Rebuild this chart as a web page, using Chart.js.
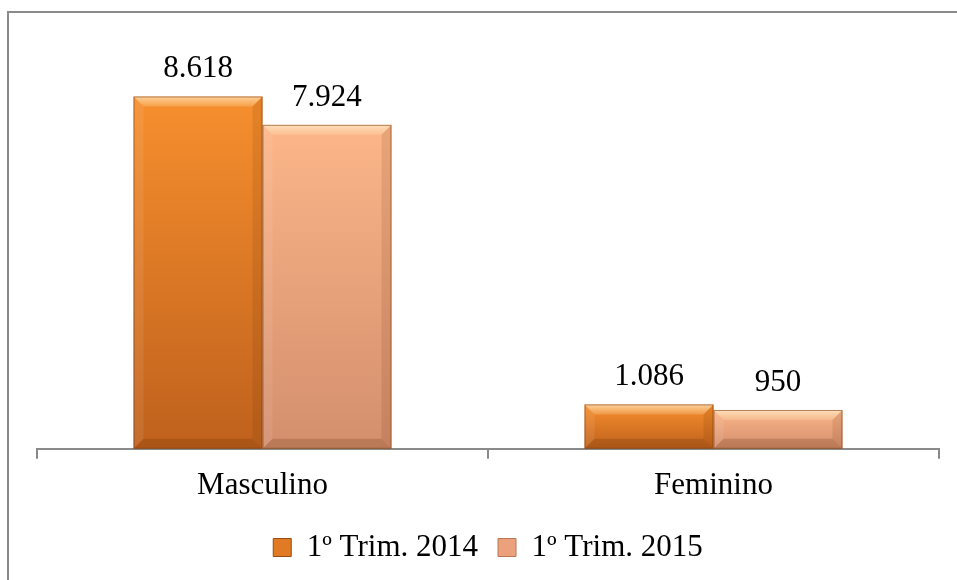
<!DOCTYPE html>
<html>
<head>
<meta charset="utf-8">
<script src="https://cdn.jsdelivr.net/npm/chart.js@4/dist/chart.umd.min.js"></script>
<style>
  html, body { margin: 0; padding: 0; background: #fff; }
  #wrap { width: 957px; height: 580px; position: relative; }
</style>
</head>
<body>
<div id="wrap"><canvas id="c"></canvas></div>
<script>
const categories = ["Masculino", "Feminino"];
const labels2014 = "1º Trim. 2014";
const labels2015 = "1º Trim. 2015";
const values2014 = [8618, 1086];
const values2015 = [7924, 950];

const serif = "'Liberation Serif', 'Times New Roman', serif";

// top / bottom colours of each series
const c2014 = ["#f78f2e", "#bf611d"];
const c2015 = ["#fcb689", "#d38e6d"];

function fmt(v) {
  return String(v).replace(/\B(?=(\d{3})+(?!\d))/g, ".");
}

function barFill(cols) {
  return function (ctx) {
    const y = ctx.chart.scales && ctx.chart.scales.y;
    if (!y || ctx.raw == null) return cols[0];
    const top = y.getPixelForValue(ctx.raw);
    const bottom = y.getPixelForValue(0);
    if (!isFinite(top) || !isFinite(bottom) || top === bottom) return cols[0];
    const g = ctx.chart.ctx.createLinearGradient(0, top, 0, bottom);
    g.addColorStop(0, cols[0]);
    g.addColorStop(1, cols[1]);
    return g;
  };
}

// frame round the picture
const framePlugin = {
  id: "frame",
  beforeDraw(chart) {
    const ctx = chart.ctx;
    ctx.save();
    ctx.strokeStyle = "#8a8a8a";
    ctx.lineWidth = 2;
    ctx.beginPath();
    ctx.moveTo(8, 580);
    ctx.lineTo(8, 12);
    ctx.lineTo(957, 12);
    ctx.stroke();
    ctx.restore();
  }
};

// bevel look + value labels
const bevelPlugin = {
  id: "bevel",
  afterDatasetsDraw(chart) {
    const ctx = chart.ctx;
    chart.data.datasets.forEach((ds, di) => {
      const meta = chart.getDatasetMeta(di);
      meta.data.forEach((bar, i) => {
        const l = bar.x - bar.width / 2, r = bar.x + bar.width / 2;
        const t = bar.y, b = bar.base;
        const s = Math.min(10, (b - t) / 2);
        ctx.save();
        // top
        const tg = ctx.createLinearGradient(0, t, 0, t + s);
        tg.addColorStop(0, "rgba(255,245,215,0.65)");
        tg.addColorStop(1, "rgba(255,235,190,0.2)");
        ctx.fillStyle = tg;
        ctx.beginPath();
        ctx.moveTo(l, t); ctx.lineTo(r, t); ctx.lineTo(r - s, t + s); ctx.lineTo(l + s, t + s);
        ctx.closePath(); ctx.fill();
        // left
        ctx.fillStyle = "rgba(255,255,255,0.08)";
        ctx.beginPath();
        ctx.moveTo(l, t); ctx.lineTo(l + s, t + s); ctx.lineTo(l + s, b - s); ctx.lineTo(l, b);
        ctx.closePath(); ctx.fill();
        // right
        ctx.fillStyle = "rgba(90,40,0,0.12)";
        ctx.beginPath();
        ctx.moveTo(r, t); ctx.lineTo(r - s, t + s); ctx.lineTo(r - s, b - s); ctx.lineTo(r, b);
        ctx.closePath(); ctx.fill();
        // bottom
        ctx.fillStyle = "rgba(90,40,0,0.2)";
        ctx.beginPath();
        ctx.moveTo(l, b); ctx.lineTo(l + s, b - s); ctx.lineTo(r - s, b - s); ctx.lineTo(r, b);
        ctx.closePath(); ctx.fill();
        // edge
        ctx.strokeStyle = "rgba(120,55,10,0.55)";
        ctx.lineWidth = 1;
        ctx.strokeRect(l + 0.5, t + 0.5, r - l - 1, b - t - 1);
        // value label
        ctx.fillStyle = "#000";
        ctx.font = "31px " + serif;
        ctx.textAlign = "center";
        ctx.textBaseline = "alphabetic";
        ctx.fillText(fmt(ds.data[i]), bar.x, t - 19);
        ctx.restore();
      });
    });
  }
};

new Chart(document.getElementById("c"), {
  type: "bar",
  data: {
    labels: categories,
    datasets: [
      { label: labels2014, data: values2014, backgroundColor: barFill(c2014), borderWidth: 0 },
      { label: labels2015, data: values2015, backgroundColor: barFill(c2015), borderWidth: 0 }
    ]
  },
  plugins: [framePlugin, bevelPlugin],
  options: {
    responsive: true,
    maintainAspectRatio: false,
    animation: false,
    categoryPercentage: 0.572,
    barPercentage: 1.0,
    layout: { padding: { left: 37, right: 18, top: 40, bottom: 7 } },
    plugins: {
      tooltip: { enabled: false },
      legend: {
        display: true,
        position: "bottom",
        labels: {
          color: "#000",
          font: { family: serif, size: 31 },
          boxWidth: 18,
          boxHeight: 18,
          padding: 20,
          generateLabels(chart) {
            return chart.data.datasets.map((ds, i) => ({
              text: ds.label,
              fillStyle: i === 0 ? "#e07a25" : "#eba27c",
              strokeStyle: i === 0 ? "#9a4d12" : "#b97755",
              lineWidth: 1,
              datasetIndex: i
            }));
          }
        }
      }
    },
    scales: {
      x: {
        grid: { display: true, offset: true, drawOnChartArea: false, drawTicks: true, tickLength: 10, color: "#8a8a8a", lineWidth: 2 },
        border: { display: true, color: "#8a8a8a", width: 2 },
        ticks: { color: "#000", font: { family: serif, size: 31 }, padding: 8 }
      },
      y: {
        display: false,
        min: 0,
        max: 10000
      }
    }
  }
});
</script>
</body>
</html>
